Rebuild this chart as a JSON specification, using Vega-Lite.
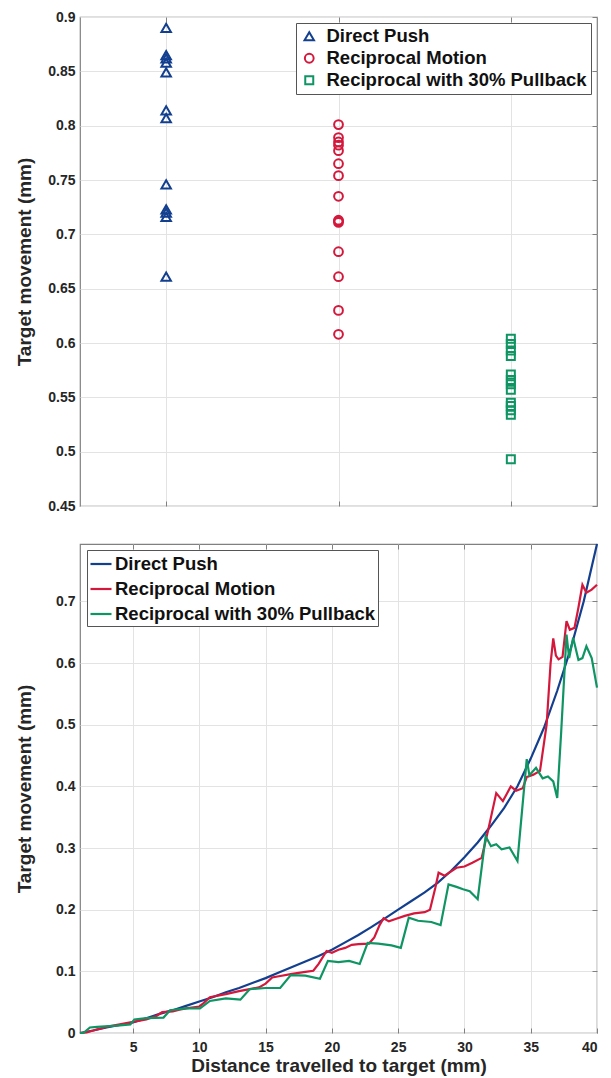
{
  "$schema": "https://vega.github.io/schema/vega-lite/v6.json",
  "padding": {"left": 14, "top": 9, "right": 14, "bottom": 0},
  "spacing": 25,
  "background": "white",
  "config": {
    "font": "Liberation Sans",
    "view": {"stroke": "#808080", "strokeWidth": 1.2},
    "axis": {
      "domain": false,
      "labelFont": "Liberation Sans",
      "labelFontWeight": "bold",
      "labelFontSize": 14,
      "labelColor": "#262626",
      "titleFont": "Liberation Sans",
      "titleFontWeight": "bold",
      "titleFontSize": 19,
      "titleColor": "#262626",
      "gridColor": "#e3e3e3",
      "gridWidth": 1,
      "tickColor": "#808080",
      "tickWidth": 1
    }
  },
  "resolve": {
    "scale": {"color": "independent", "shape": "independent", "size": "independent"},
    "legend": {"color": "independent", "shape": "independent", "size": "independent"}
  },
  "datasets": {
    "pts": [
      {"s": "Direct Push", "c": 1, "v": 0.890},
      {"s": "Direct Push", "c": 1, "v": 0.865},
      {"s": "Direct Push", "c": 1, "v": 0.862},
      {"s": "Direct Push", "c": 1, "v": 0.858},
      {"s": "Direct Push", "c": 1, "v": 0.849},
      {"s": "Direct Push", "c": 1, "v": 0.814},
      {"s": "Direct Push", "c": 1, "v": 0.807},
      {"s": "Direct Push", "c": 1, "v": 0.746},
      {"s": "Direct Push", "c": 1, "v": 0.723},
      {"s": "Direct Push", "c": 1, "v": 0.720},
      {"s": "Direct Push", "c": 1, "v": 0.716},
      {"s": "Direct Push", "c": 1, "v": 0.661},
      {"s": "Reciprocal Motion", "c": 2, "v": 0.801},
      {"s": "Reciprocal Motion", "c": 2, "v": 0.789},
      {"s": "Reciprocal Motion", "c": 2, "v": 0.785},
      {"s": "Reciprocal Motion", "c": 2, "v": 0.782},
      {"s": "Reciprocal Motion", "c": 2, "v": 0.777},
      {"s": "Reciprocal Motion", "c": 2, "v": 0.765},
      {"s": "Reciprocal Motion", "c": 2, "v": 0.754},
      {"s": "Reciprocal Motion", "c": 2, "v": 0.735},
      {"s": "Reciprocal Motion", "c": 2, "v": 0.713},
      {"s": "Reciprocal Motion", "c": 2, "v": 0.712},
      {"s": "Reciprocal Motion", "c": 2, "v": 0.711},
      {"s": "Reciprocal Motion", "c": 2, "v": 0.684},
      {"s": "Reciprocal Motion", "c": 2, "v": 0.661},
      {"s": "Reciprocal Motion", "c": 2, "v": 0.630},
      {"s": "Reciprocal Motion", "c": 2, "v": 0.608},
      {"s": "Reciprocal with 30% Pullback", "c": 3, "v": 0.604},
      {"s": "Reciprocal with 30% Pullback", "c": 3, "v": 0.599},
      {"s": "Reciprocal with 30% Pullback", "c": 3, "v": 0.593},
      {"s": "Reciprocal with 30% Pullback", "c": 3, "v": 0.588},
      {"s": "Reciprocal with 30% Pullback", "c": 3, "v": 0.571},
      {"s": "Reciprocal with 30% Pullback", "c": 3, "v": 0.566},
      {"s": "Reciprocal with 30% Pullback", "c": 3, "v": 0.562},
      {"s": "Reciprocal with 30% Pullback", "c": 3, "v": 0.557},
      {"s": "Reciprocal with 30% Pullback", "c": 3, "v": 0.545},
      {"s": "Reciprocal with 30% Pullback", "c": 3, "v": 0.542},
      {"s": "Reciprocal with 30% Pullback", "c": 3, "v": 0.538},
      {"s": "Reciprocal with 30% Pullback", "c": 3, "v": 0.534},
      {"s": "Reciprocal with 30% Pullback", "c": 3, "v": 0.493}
    ],
    "lines": [
      {"s": "Direct Push", "x": 1, "y": 0},
      {"s": "Direct Push", "x": 2, "y": 0.004},
      {"s": "Direct Push", "x": 3, "y": 0.009},
      {"s": "Direct Push", "x": 4, "y": 0.013},
      {"s": "Direct Push", "x": 5, "y": 0.017},
      {"s": "Direct Push", "x": 6, "y": 0.024},
      {"s": "Direct Push", "x": 7, "y": 0.031},
      {"s": "Direct Push", "x": 8, "y": 0.037},
      {"s": "Direct Push", "x": 9, "y": 0.044},
      {"s": "Direct Push", "x": 10, "y": 0.051},
      {"s": "Direct Push", "x": 11, "y": 0.058},
      {"s": "Direct Push", "x": 12, "y": 0.066},
      {"s": "Direct Push", "x": 13, "y": 0.073},
      {"s": "Direct Push", "x": 14, "y": 0.081},
      {"s": "Direct Push", "x": 15, "y": 0.089},
      {"s": "Direct Push", "x": 16, "y": 0.098},
      {"s": "Direct Push", "x": 17, "y": 0.107},
      {"s": "Direct Push", "x": 18, "y": 0.116},
      {"s": "Direct Push", "x": 19, "y": 0.125},
      {"s": "Direct Push", "x": 20, "y": 0.135},
      {"s": "Direct Push", "x": 21, "y": 0.147},
      {"s": "Direct Push", "x": 22, "y": 0.159},
      {"s": "Direct Push", "x": 23, "y": 0.172},
      {"s": "Direct Push", "x": 24, "y": 0.186},
      {"s": "Direct Push", "x": 25, "y": 0.200},
      {"s": "Direct Push", "x": 26, "y": 0.214},
      {"s": "Direct Push", "x": 27, "y": 0.228},
      {"s": "Direct Push", "x": 28, "y": 0.244},
      {"s": "Direct Push", "x": 29, "y": 0.263},
      {"s": "Direct Push", "x": 30, "y": 0.285},
      {"s": "Direct Push", "x": 31, "y": 0.309},
      {"s": "Direct Push", "x": 32, "y": 0.336},
      {"s": "Direct Push", "x": 33, "y": 0.365},
      {"s": "Direct Push", "x": 34, "y": 0.400},
      {"s": "Direct Push", "x": 35, "y": 0.445},
      {"s": "Direct Push", "x": 36, "y": 0.495},
      {"s": "Direct Push", "x": 37, "y": 0.555},
      {"s": "Direct Push", "x": 38, "y": 0.622},
      {"s": "Direct Push", "x": 39, "y": 0.700},
      {"s": "Direct Push", "x": 40, "y": 0.793},
      {"s": "Reciprocal Motion", "x": 1, "y": 0},
      {"s": "Reciprocal Motion", "x": 1.5, "y": 0.001},
      {"s": "Reciprocal Motion", "x": 2, "y": 0.004},
      {"s": "Reciprocal Motion", "x": 3, "y": 0.010},
      {"s": "Reciprocal Motion", "x": 4, "y": 0.014},
      {"s": "Reciprocal Motion", "x": 5, "y": 0.018},
      {"s": "Reciprocal Motion", "x": 6, "y": 0.022},
      {"s": "Reciprocal Motion", "x": 6.8, "y": 0.028},
      {"s": "Reciprocal Motion", "x": 7.2, "y": 0.034},
      {"s": "Reciprocal Motion", "x": 8, "y": 0.035},
      {"s": "Reciprocal Motion", "x": 8.5, "y": 0.038},
      {"s": "Reciprocal Motion", "x": 9, "y": 0.040},
      {"s": "Reciprocal Motion", "x": 10, "y": 0.043},
      {"s": "Reciprocal Motion", "x": 10.3, "y": 0.048},
      {"s": "Reciprocal Motion", "x": 10.8, "y": 0.058},
      {"s": "Reciprocal Motion", "x": 11.5, "y": 0.061},
      {"s": "Reciprocal Motion", "x": 12, "y": 0.063},
      {"s": "Reciprocal Motion", "x": 13, "y": 0.068},
      {"s": "Reciprocal Motion", "x": 14, "y": 0.072},
      {"s": "Reciprocal Motion", "x": 14.5, "y": 0.074},
      {"s": "Reciprocal Motion", "x": 15, "y": 0.080},
      {"s": "Reciprocal Motion", "x": 15.5, "y": 0.090},
      {"s": "Reciprocal Motion", "x": 16, "y": 0.092},
      {"s": "Reciprocal Motion", "x": 17, "y": 0.096},
      {"s": "Reciprocal Motion", "x": 18, "y": 0.099},
      {"s": "Reciprocal Motion", "x": 18.6, "y": 0.101},
      {"s": "Reciprocal Motion", "x": 19, "y": 0.112},
      {"s": "Reciprocal Motion", "x": 19.6, "y": 0.133},
      {"s": "Reciprocal Motion", "x": 20, "y": 0.130},
      {"s": "Reciprocal Motion", "x": 20.5, "y": 0.135},
      {"s": "Reciprocal Motion", "x": 21, "y": 0.138},
      {"s": "Reciprocal Motion", "x": 21.5, "y": 0.143},
      {"s": "Reciprocal Motion", "x": 22, "y": 0.144},
      {"s": "Reciprocal Motion", "x": 22.8, "y": 0.145},
      {"s": "Reciprocal Motion", "x": 23.2, "y": 0.155},
      {"s": "Reciprocal Motion", "x": 23.6, "y": 0.175},
      {"s": "Reciprocal Motion", "x": 23.9, "y": 0.186},
      {"s": "Reciprocal Motion", "x": 24.3, "y": 0.181},
      {"s": "Reciprocal Motion", "x": 24.8, "y": 0.185},
      {"s": "Reciprocal Motion", "x": 25.5, "y": 0.190},
      {"s": "Reciprocal Motion", "x": 26.2, "y": 0.194},
      {"s": "Reciprocal Motion", "x": 27, "y": 0.196},
      {"s": "Reciprocal Motion", "x": 27.4, "y": 0.200},
      {"s": "Reciprocal Motion", "x": 27.8, "y": 0.235},
      {"s": "Reciprocal Motion", "x": 28.05, "y": 0.260},
      {"s": "Reciprocal Motion", "x": 28.5, "y": 0.255},
      {"s": "Reciprocal Motion", "x": 29, "y": 0.262},
      {"s": "Reciprocal Motion", "x": 29.4, "y": 0.268},
      {"s": "Reciprocal Motion", "x": 30, "y": 0.270},
      {"s": "Reciprocal Motion", "x": 30.6, "y": 0.276},
      {"s": "Reciprocal Motion", "x": 31.3, "y": 0.284},
      {"s": "Reciprocal Motion", "x": 31.8, "y": 0.33},
      {"s": "Reciprocal Motion", "x": 32.4, "y": 0.389},
      {"s": "Reciprocal Motion", "x": 32.9, "y": 0.376},
      {"s": "Reciprocal Motion", "x": 33.2, "y": 0.388},
      {"s": "Reciprocal Motion", "x": 33.5, "y": 0.400},
      {"s": "Reciprocal Motion", "x": 33.9, "y": 0.393},
      {"s": "Reciprocal Motion", "x": 34.4, "y": 0.397},
      {"s": "Reciprocal Motion", "x": 34.7, "y": 0.415},
      {"s": "Reciprocal Motion", "x": 35.2, "y": 0.419},
      {"s": "Reciprocal Motion", "x": 35.7, "y": 0.425},
      {"s": "Reciprocal Motion", "x": 36.2, "y": 0.500},
      {"s": "Reciprocal Motion", "x": 36.5, "y": 0.600},
      {"s": "Reciprocal Motion", "x": 36.7, "y": 0.640},
      {"s": "Reciprocal Motion", "x": 36.9, "y": 0.612},
      {"s": "Reciprocal Motion", "x": 37.1, "y": 0.606},
      {"s": "Reciprocal Motion", "x": 37.4, "y": 0.610},
      {"s": "Reciprocal Motion", "x": 37.7, "y": 0.668},
      {"s": "Reciprocal Motion", "x": 37.95, "y": 0.654},
      {"s": "Reciprocal Motion", "x": 38.3, "y": 0.657},
      {"s": "Reciprocal Motion", "x": 38.6, "y": 0.690},
      {"s": "Reciprocal Motion", "x": 38.9, "y": 0.727},
      {"s": "Reciprocal Motion", "x": 39.2, "y": 0.714},
      {"s": "Reciprocal Motion", "x": 39.6, "y": 0.719},
      {"s": "Reciprocal Motion", "x": 40, "y": 0.727},
      {"s": "Reciprocal with 30% Pullback", "x": 1, "y": 0},
      {"s": "Reciprocal with 30% Pullback", "x": 1.25, "y": 0},
      {"s": "Reciprocal with 30% Pullback", "x": 1.75, "y": 0.009},
      {"s": "Reciprocal with 30% Pullback", "x": 2.3, "y": 0.010},
      {"s": "Reciprocal with 30% Pullback", "x": 3.8, "y": 0.012},
      {"s": "Reciprocal with 30% Pullback", "x": 4.8, "y": 0.014},
      {"s": "Reciprocal with 30% Pullback", "x": 5.1, "y": 0.022},
      {"s": "Reciprocal with 30% Pullback", "x": 6, "y": 0.024},
      {"s": "Reciprocal with 30% Pullback", "x": 7.3, "y": 0.025},
      {"s": "Reciprocal with 30% Pullback", "x": 7.8, "y": 0.037},
      {"s": "Reciprocal with 30% Pullback", "x": 9, "y": 0.040},
      {"s": "Reciprocal with 30% Pullback", "x": 10.05, "y": 0.040},
      {"s": "Reciprocal with 30% Pullback", "x": 10.8, "y": 0.052},
      {"s": "Reciprocal with 30% Pullback", "x": 12, "y": 0.056},
      {"s": "Reciprocal with 30% Pullback", "x": 13.1, "y": 0.054},
      {"s": "Reciprocal with 30% Pullback", "x": 13.8, "y": 0.071},
      {"s": "Reciprocal with 30% Pullback", "x": 15, "y": 0.073},
      {"s": "Reciprocal with 30% Pullback", "x": 16.1, "y": 0.073},
      {"s": "Reciprocal with 30% Pullback", "x": 16.9, "y": 0.094},
      {"s": "Reciprocal with 30% Pullback", "x": 18, "y": 0.093},
      {"s": "Reciprocal with 30% Pullback", "x": 19.1, "y": 0.088},
      {"s": "Reciprocal with 30% Pullback", "x": 19.7, "y": 0.117},
      {"s": "Reciprocal with 30% Pullback", "x": 20.5, "y": 0.115},
      {"s": "Reciprocal with 30% Pullback", "x": 21.3, "y": 0.117},
      {"s": "Reciprocal with 30% Pullback", "x": 22.1, "y": 0.112},
      {"s": "Reciprocal with 30% Pullback", "x": 22.7, "y": 0.146},
      {"s": "Reciprocal with 30% Pullback", "x": 23.5, "y": 0.145},
      {"s": "Reciprocal with 30% Pullback", "x": 24.5, "y": 0.142},
      {"s": "Reciprocal with 30% Pullback", "x": 25.2, "y": 0.138},
      {"s": "Reciprocal with 30% Pullback", "x": 25.8, "y": 0.187},
      {"s": "Reciprocal with 30% Pullback", "x": 26.5, "y": 0.182},
      {"s": "Reciprocal with 30% Pullback", "x": 27.5, "y": 0.180},
      {"s": "Reciprocal with 30% Pullback", "x": 28.2, "y": 0.175},
      {"s": "Reciprocal with 30% Pullback", "x": 28.8, "y": 0.241},
      {"s": "Reciprocal with 30% Pullback", "x": 29.4, "y": 0.237},
      {"s": "Reciprocal with 30% Pullback", "x": 29.9, "y": 0.233},
      {"s": "Reciprocal with 30% Pullback", "x": 30.4, "y": 0.230},
      {"s": "Reciprocal with 30% Pullback", "x": 31.0, "y": 0.217},
      {"s": "Reciprocal with 30% Pullback", "x": 31.6, "y": 0.319},
      {"s": "Reciprocal with 30% Pullback", "x": 32.0, "y": 0.303},
      {"s": "Reciprocal with 30% Pullback", "x": 32.4, "y": 0.306},
      {"s": "Reciprocal with 30% Pullback", "x": 32.8, "y": 0.298},
      {"s": "Reciprocal with 30% Pullback", "x": 33.4, "y": 0.301},
      {"s": "Reciprocal with 30% Pullback", "x": 34.0, "y": 0.279},
      {"s": "Reciprocal with 30% Pullback", "x": 34.7, "y": 0.444},
      {"s": "Reciprocal with 30% Pullback", "x": 34.9, "y": 0.418},
      {"s": "Reciprocal with 30% Pullback", "x": 35.4, "y": 0.430},
      {"s": "Reciprocal with 30% Pullback", "x": 35.9, "y": 0.413},
      {"s": "Reciprocal with 30% Pullback", "x": 36.3, "y": 0.416},
      {"s": "Reciprocal with 30% Pullback", "x": 36.7, "y": 0.408},
      {"s": "Reciprocal with 30% Pullback", "x": 37.0, "y": 0.381},
      {"s": "Reciprocal with 30% Pullback", "x": 37.3, "y": 0.489},
      {"s": "Reciprocal with 30% Pullback", "x": 37.7, "y": 0.646},
      {"s": "Reciprocal with 30% Pullback", "x": 37.9, "y": 0.608},
      {"s": "Reciprocal with 30% Pullback", "x": 38.2, "y": 0.641},
      {"s": "Reciprocal with 30% Pullback", "x": 38.6, "y": 0.605},
      {"s": "Reciprocal with 30% Pullback", "x": 38.9, "y": 0.608},
      {"s": "Reciprocal with 30% Pullback", "x": 39.2, "y": 0.627},
      {"s": "Reciprocal with 30% Pullback", "x": 39.6, "y": 0.608},
      {"s": "Reciprocal with 30% Pullback", "x": 40, "y": 0.560}
    ]
  },
  "vconcat": [
    {
      "width": 517,
      "height": 489,
      "data": {"name": "pts"},
      "layer": [
        {
          "mark": {"type": "point", "filled": false, "strokeWidth": 2, "opacity": 1},
          "encoding": {
            "x": {"field": "c", "type": "quantitative", "scale": {"domain": [0.5, 3.5], "nice": false, "zero": false},
                  "axis": {"values": [1, 2, 3], "labels": false, "title": null, "tickSize": -5, "grid": true}},
            "y": {"field": "v", "type": "quantitative", "scale": {"domain": [0.45, 0.9], "nice": false, "zero": false},
                  "axis": {"values": [0.45, 0.5, 0.55, 0.6, 0.65, 0.7, 0.75, 0.8, 0.85, 0.9], "format": "~g", "title": "Target movement (mm)",
                           "tickSize": 0, "labelPadding": 5, "minExtent": 34, "maxExtent": 34, "titlePadding": 12, "grid": true}},
            "color": {"field": "s", "type": "nominal",
                      "scale": {"domain": ["Direct Push", "Reciprocal Motion", "Reciprocal with 30% Pullback"], "range": ["#133f8f", "#d4183c", "#0f9563"]},
                      "legend": {"orient": "none", "legendX": 216, "legendY": 6, "title": null, "fillColor": "white", "strokeColor": "#555555", "padding": 4,
                                 "labelFont": "Liberation Sans", "labelFontWeight": "bold", "labelFontSize": 18.5, "labelColor": "#111111", "rowPadding": 3,
                                 "symbolStrokeWidth": 2, "labelOffset": 8, "labelLimit": 400, "symbolFillColor": "transparent"}},
            "shape": {"field": "s", "type": "nominal",
                      "scale": {"domain": ["Direct Push", "Reciprocal Motion", "Reciprocal with 30% Pullback"], "range": ["triangle-up", "circle", "square"]},
                      "legend": {"orient": "none", "legendX": 216, "legendY": 6, "title": null, "fillColor": "white", "strokeColor": "#555555", "padding": 4,
                                 "labelFont": "Liberation Sans", "labelFontWeight": "bold", "labelFontSize": 18.5, "labelColor": "#111111", "rowPadding": 3,
                                 "symbolStrokeWidth": 2, "labelOffset": 8, "labelLimit": 400, "symbolFillColor": "transparent"}},
            "size": {"field": "s", "type": "nominal",
                     "scale": {"domain": ["Direct Push", "Reciprocal Motion", "Reciprocal with 30% Pullback"], "range": [90, 64, 44]},
                     "legend": {"orient": "none", "legendX": 216, "legendY": 6, "title": null, "fillColor": "white", "strokeColor": "#555555", "padding": 4,
                                "labelFont": "Liberation Sans", "labelFontWeight": "bold", "labelFontSize": 18.5, "labelColor": "#111111", "rowPadding": 3,
                                "symbolStrokeWidth": 2, "labelOffset": 8, "labelLimit": 400, "symbolFillColor": "transparent"}}
          }
        },
        {
          "mark": {"type": "point", "opacity": 0},
          "encoding": {
            "x": {"field": "c", "type": "quantitative", "axis": {"orient": "top", "values": [1, 2, 3], "labels": false, "title": null, "tickSize": -5, "grid": false}},
            "y": {"field": "v", "type": "quantitative", "axis": {"orient": "right", "values": [0.45, 0.5, 0.55, 0.6, 0.65, 0.7, 0.75, 0.8, 0.85, 0.9], "labels": false, "title": null, "tickSize": -5, "grid": false}}
          }
        }
      ],
      "resolve": {"axis": {"x": "independent", "y": "independent"}}
    },
    {
      "width": 517,
      "height": 489,
      "data": {"name": "lines"},
      "layer": [
        {
          "mark": {"type": "line", "strokeWidth": 2.2},
          "encoding": {
            "x": {"field": "x", "type": "quantitative", "scale": {"domain": [1, 40], "nice": false, "zero": false},
                  "axis": {"values": [5, 10, 15, 20, 25, 30, 35, 40], "title": "Distance travelled to target (mm)", "tickSize": -5, "labelPadding": 12, "titlePadding": 2, "grid": true}},
            "y": {"field": "y", "type": "quantitative", "scale": {"domain": [0, 0.793], "nice": false},
                  "axis": {"values": [0, 0.1, 0.2, 0.3, 0.4, 0.5, 0.6, 0.7], "format": "~g", "title": "Target movement (mm)",
                           "tickSize": 0, "labelPadding": 5, "minExtent": 34, "maxExtent": 34, "titlePadding": 12, "grid": true}},
            "color": {"field": "s", "type": "nominal",
                      "scale": {"domain": ["Direct Push", "Reciprocal Motion", "Reciprocal with 30% Pullback"], "range": ["#133f8f", "#d4183c", "#0f9563"]},
                      "legend": {"orient": "none", "legendX": 7, "legendY": 6, "title": null, "fillColor": "white", "strokeColor": "#555555", "padding": 2,
                                 "labelFont": "Liberation Sans", "labelFontWeight": "bold", "labelFontSize": 18.5, "labelColor": "#111111", "rowPadding": 3,
                                 "symbolType": "stroke", "symbolSize": 441, "symbolStrokeWidth": 2.2, "labelOffset": 2, "labelLimit": 400}}
          }
        },
        {
          "mark": {"type": "point", "opacity": 0},
          "encoding": {
            "x": {"field": "x", "type": "quantitative", "axis": {"orient": "top", "values": [5, 10, 15, 20, 25, 30, 35], "labels": false, "title": null, "tickSize": -5, "grid": false}},
            "y": {"field": "y", "type": "quantitative", "axis": {"orient": "right", "values": [0.1, 0.2, 0.3, 0.4, 0.5, 0.6, 0.7], "labels": false, "title": null, "tickSize": -5, "grid": false}}
          }
        }
      ],
      "resolve": {"axis": {"x": "independent", "y": "independent"}}
    }
  ]
}
